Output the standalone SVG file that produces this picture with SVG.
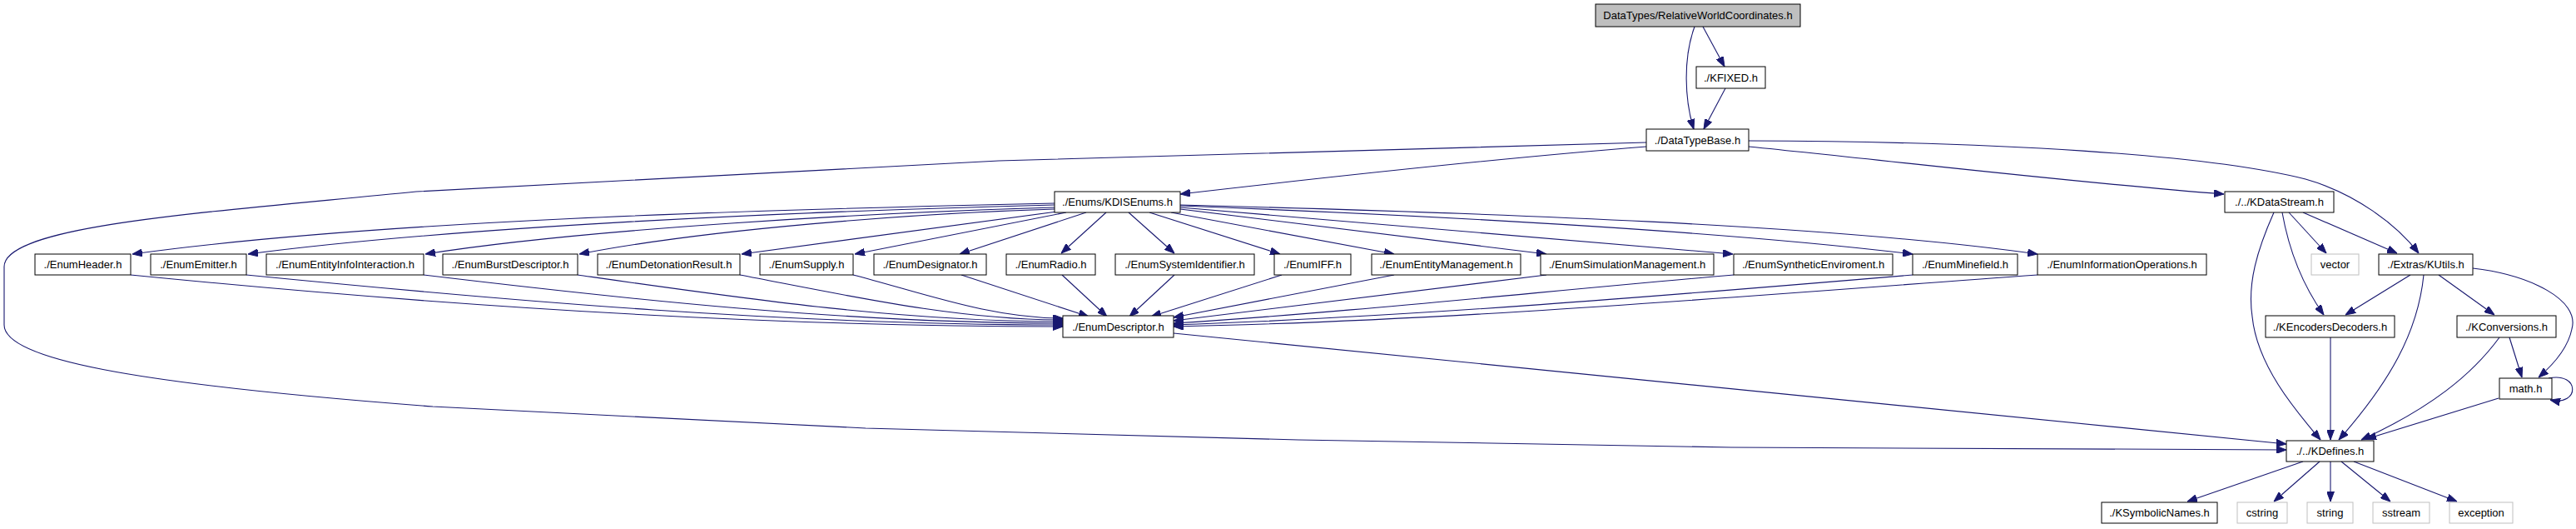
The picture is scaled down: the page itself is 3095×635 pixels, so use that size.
<svg xmlns="http://www.w3.org/2000/svg" width="3095" height="635" viewBox="0 0 3095 635">
<style>
.n rect{fill:#ffffff;stroke:#000000;stroke-width:1}
.n.g rect{stroke:#bfbfbf}
.n.top rect{fill:#bfbfbf}
.n text{font-family:"Liberation Sans",Arial,sans-serif;font-size:13px;fill:#000;text-anchor:middle}
#edges path{fill:none;stroke:#191970;stroke-width:1.1;marker-end:url(#arr)}
</style>
<defs>
<marker id="arr" markerUnits="userSpaceOnUse" markerWidth="12" markerHeight="9" refX="12" refY="4.5" orient="auto">
<path d="M0,0 L12,4.5 L0,9 z" fill="#191970" stroke="#191970" stroke-width="1"/>
</marker>
</defs>
<rect width="3095" height="635" fill="#ffffff"/>
<g id="edges">
<path d="M2036,32 C2022,70 2024,120 2035,155"/>
<path d="M2046,32 L2072,80"/>
<path d="M2073,106 L2047,155"/>
<path d="M1978,176 C1800,190 1600,212 1418,233"/>
<path d="M1978,171 L1200,193 L500,230 C250,255 5,270 5,320 L5,390 C5,430 150,460 520,488 L1040,514 L1560,528 L2080,537 L2747,540"/>
<path d="M2101,176 C2300,196 2500,220 2672,233"/>
<path d="M2101,169 C2400,170 2650,185 2770,215 C2830,232 2880,270 2906,304"/>
<path d="M1267,244 C900,252 450,265 159,305"/>
<path d="M1267,246 C950,254 550,272 298,305"/>
<path d="M1267,249 C1050,255 700,275 511,305"/>
<path d="M1267,251 C1100,256 850,275 696,305"/>
<path d="M1270,254 L891,305"/>
<path d="M1281,255 L1027,305"/>
<path d="M1305,255 L1153,305"/>
<path d="M1329,255 L1275,304"/>
<path d="M1356,255 L1411,304"/>
<path d="M1381,255 L1538,305"/>
<path d="M1407,255 L1675,305"/>
<path d="M1418,251 L1858,305"/>
<path d="M1418,249 L2082,305"/>
<path d="M1418,247 C1700,258 2050,275 2298,305"/>
<path d="M1418,246 C1800,256 2200,270 2448,305"/>
<path d="M157,330 C530,367 904,392 1277,392"/>
<path d="M296,330 C620,362 950,390 1277,390"/>
<path d="M509,330 C760,360 1020,388 1277,388"/>
<path d="M694,330 C890,358 1080,386 1277,386"/>
<path d="M889,330 C1020,355 1150,384 1277,384"/>
<path d="M1025,330 C1110,352 1190,382 1277,382"/>
<path d="M1155,330 L1308,380"/>
<path d="M1276,330 L1330,380"/>
<path d="M1411,330 L1357,380"/>
<path d="M1540,330 L1383,380"/>
<path d="M1675,330 L1410,381"/>
<path d="M1858,330 L1410,385"/>
<path d="M2083,330 C1850,350 1620,375 1410,388"/>
<path d="M2298,330 C2000,355 1700,380 1410,390"/>
<path d="M2448,330 C2100,355 1750,385 1410,392"/>
<path d="M1410,400 L2747,533"/>
<path d="M2750,255 L2795,304"/>
<path d="M2767,255 L2880,304"/>
<path d="M2742,255 C2750,300 2765,340 2792,378"/>
<path d="M2732,255 C2712,300 2700,340 2706,380 C2712,440 2760,495 2788,528"/>
<path d="M2896,330 L2818,378"/>
<path d="M2912,330 C2905,400 2870,460 2810,528"/>
<path d="M2930,330 L2997,378"/>
<path d="M2971,322 C3040,330 3100,360 3090,395 C3085,420 3065,440 3050,453"/>
<path d="M2800,405 L2800,528"/>
<path d="M3015,405 L3030,453"/>
<path d="M3003,405 C2970,450 2920,490 2837,528"/>
<path d="M3062,454 C3100,446 3100,488 3064,480"/>
<path d="M3002,478 L2843,527"/>
<path d="M2767,554 L2628,602"/>
<path d="M2787,554 L2732,602"/>
<path d="M2800,554 L2800,602"/>
<path d="M2813,554 L2872,602"/>
<path d="M2828,554 L2952,602"/>
</g>
<g id="n_rwc" class="n top"><rect x="1917" y="5" width="246" height="27"/><text x="2040" y="23">DataTypes/RelativeWorldCoordinates.h</text></g>
<g id="n_kfixed" class="n"><rect x="2038" y="80" width="83" height="26"/><text x="2079.5" y="97.5">./KFIXED.h</text></g>
<g id="n_datatypebase" class="n"><rect x="1978" y="155" width="123" height="26"/><text x="2039.5" y="172.5">./DataTypeBase.h</text></g>
<g id="n_kdisenums" class="n"><rect x="1267" y="230" width="151" height="25"/><text x="1342.5" y="247">./Enums/KDISEnums.h</text></g>
<g id="n_kdatastream" class="n"><rect x="2673" y="230" width="131" height="25"/><text x="2738.5" y="247">./../KDataStream.h</text></g>
<g id="n_enumheader" class="n"><rect x="42" y="305" width="115" height="25"/><text x="99.5" y="322">./EnumHeader.h</text></g>
<g id="n_enumemitter" class="n"><rect x="181" y="305" width="115" height="25"/><text x="238.5" y="322">./EnumEmitter.h</text></g>
<g id="n_enumentityinfo" class="n"><rect x="320" y="305" width="189" height="25"/><text x="414.5" y="322">./EnumEntityInfoInteraction.h</text></g>
<g id="n_enumburst" class="n"><rect x="532" y="305" width="162" height="25"/><text x="613" y="322">./EnumBurstDescriptor.h</text></g>
<g id="n_enumdetonation" class="n"><rect x="718" y="305" width="171" height="25"/><text x="803.5" y="322">./EnumDetonationResult.h</text></g>
<g id="n_enumsupply" class="n"><rect x="913" y="305" width="112" height="25"/><text x="969" y="322">./EnumSupply.h</text></g>
<g id="n_enumdesignator" class="n"><rect x="1050" y="305" width="135" height="25"/><text x="1117.5" y="322">./EnumDesignator.h</text></g>
<g id="n_enumradio" class="n"><rect x="1209" y="305" width="107" height="25"/><text x="1262.5" y="322">./EnumRadio.h</text></g>
<g id="n_enumsysid" class="n"><rect x="1340" y="305" width="167" height="25"/><text x="1423.5" y="322">./EnumSystemIdentifier.h</text></g>
<g id="n_enumiff" class="n"><rect x="1531" y="305" width="92" height="25"/><text x="1577" y="322">./EnumIFF.h</text></g>
<g id="n_enumentitymgmt" class="n"><rect x="1648" y="305" width="179" height="25"/><text x="1737.5" y="322">./EnumEntityManagement.h</text></g>
<g id="n_enumsimmgmt" class="n"><rect x="1851" y="305" width="208" height="25"/><text x="1955" y="322">./EnumSimulationManagement.h</text></g>
<g id="n_enumsynth" class="n"><rect x="2083" y="305" width="191" height="25"/><text x="2178.5" y="322">./EnumSyntheticEnviroment.h</text></g>
<g id="n_enumminefield" class="n"><rect x="2298" y="305" width="126" height="25"/><text x="2361" y="322">./EnumMinefield.h</text></g>
<g id="n_enuminfoops" class="n"><rect x="2448" y="305" width="203" height="25"/><text x="2549.5" y="322">./EnumInformationOperations.h</text></g>
<g id="n_vector" class="n g"><rect x="2777" y="305" width="57" height="25"/><text x="2805.5" y="322">vector</text></g>
<g id="n_kutils" class="n"><rect x="2858" y="305" width="113" height="25"/><text x="2914.5" y="322">./Extras/KUtils.h</text></g>
<g id="n_enumdescriptor" class="n"><rect x="1277" y="379" width="133" height="26"/><text x="1343.5" y="396.5">./EnumDescriptor.h</text></g>
<g id="n_kencoders" class="n"><rect x="2722" y="379" width="155" height="26"/><text x="2799.5" y="396.5">./KEncodersDecoders.h</text></g>
<g id="n_kconversions" class="n"><rect x="2952" y="379" width="119" height="26"/><text x="3011.5" y="396.5">./KConversions.h</text></g>
<g id="n_math" class="n"><rect x="3003" y="454" width="63" height="25"/><text x="3034.5" y="471">math.h</text></g>
<g id="n_kdefines" class="n"><rect x="2747" y="529" width="105" height="25"/><text x="2799.5" y="546">./../KDefines.h</text></g>
<g id="n_ksymbolic" class="n"><rect x="2525" y="603" width="139" height="25"/><text x="2594.5" y="620">./KSymbolicNames.h</text></g>
<g id="n_cstring" class="n g"><rect x="2688" y="603" width="60" height="25"/><text x="2718" y="620">cstring</text></g>
<g id="n_string" class="n g"><rect x="2772" y="603" width="55" height="25"/><text x="2799.5" y="620">string</text></g>
<g id="n_sstream" class="n g"><rect x="2851" y="603" width="68" height="25"/><text x="2885" y="620">sstream</text></g>
<g id="n_exception" class="n g"><rect x="2943" y="603" width="76" height="25"/><text x="2981" y="620">exception</text></g>
</svg>
